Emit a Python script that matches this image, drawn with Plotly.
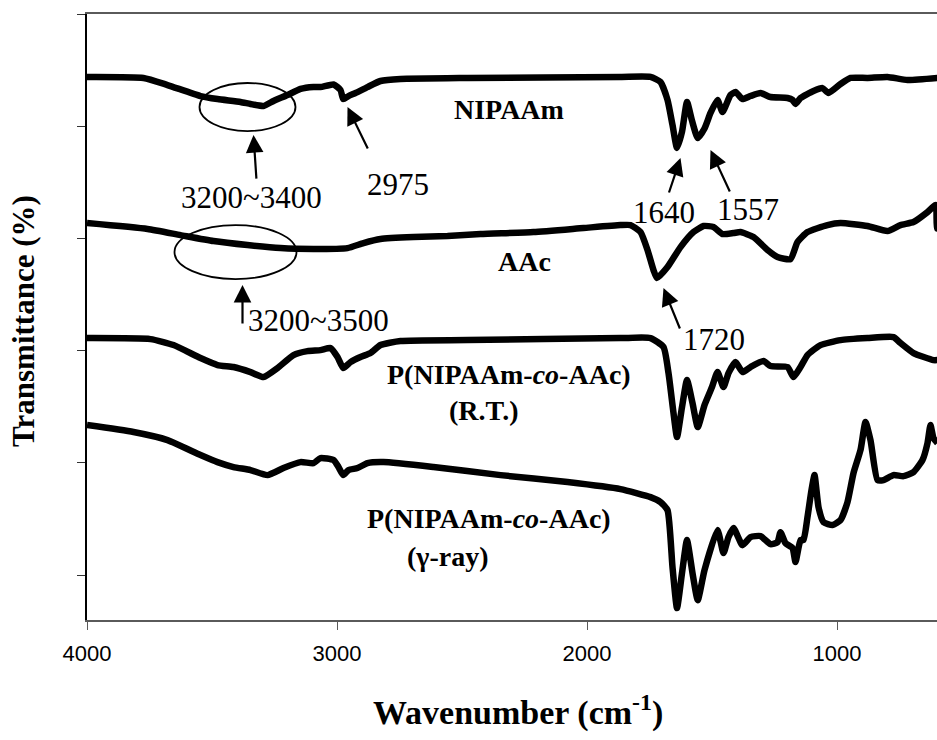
import plotly.graph_objects as go

# FTIR spectra: wavenumber (cm^-1) and stacked, offset transmittance (arb. units)
wn_nipaam = [4000, 3774, 3678, 3546, 3478, 3386, 3346, 3294, 3254, 3198, 3146, 3094, 3066, 3014,
             2986, 2975, 2954, 2926, 2878, 2826, 2746, 2478, 1866, 1746, 1706, 1678, 1658, 1640,
             1620, 1600, 1580, 1557, 1530, 1506, 1478, 1458, 1426, 1406, 1378, 1346, 1306, 1266,
             1198, 1178, 1166, 1146, 1094, 1058, 1034, 986, 946, 878, 798, 718, 598]
tr_nipaam = [4.439, 4.430, 4.367, 4.269, 4.242, 4.216, 4.198, 4.180, 4.225, 4.278, 4.332, 4.349,
             4.349, 4.372, 4.323, 4.242, 4.269, 4.296, 4.349, 4.403, 4.421, 4.430, 4.439, 4.439,
             4.394, 4.234, 4.011, 3.806, 3.950, 4.216, 4.050, 3.895, 3.980, 4.118, 4.234, 4.127,
             4.278, 4.305, 4.242, 4.269, 4.296, 4.260, 4.251, 4.234, 4.198, 4.251, 4.314, 4.340,
             4.296, 4.376, 4.430, 4.430, 4.439, 4.412, 4.430]

wn_aac = [4000, 3758, 3626, 3494, 3358, 3226, 3094, 2958, 2894, 2826, 2694, 2558, 2426, 2214,
          2014, 1866, 1826, 1786, 1758, 1734, 1720, 1678, 1626, 1574, 1534, 1494, 1458, 1414,
          1386, 1334, 1278, 1238, 1186, 1158, 1118, 1038, 986, 878, 798, 746, 694, 638, 605,
          600, 595]
tr_aac = [3.137, 3.084, 3.030, 2.977, 2.941, 2.914, 2.906, 2.914, 2.959, 2.995, 3.012, 3.021,
          3.039, 3.057, 3.093, 3.119, 3.119, 3.057, 2.897, 2.718, 2.647, 2.745, 2.923, 3.057,
          3.111, 3.102, 3.039, 3.048, 3.057, 3.012, 2.897, 2.834, 2.816, 2.968, 3.057, 3.119,
          3.137, 3.111, 3.066, 3.119, 3.146, 3.235, 3.298, 3.090, 3.090]

wn_rt = [4000, 3746, 3654, 3546, 3478, 3414, 3346, 3294, 3238, 3174, 3118, 3066, 3026, 2998,
         2975, 2946, 2906, 2866, 2826, 2746, 2478, 1866, 1746, 1694, 1674, 1654, 1640, 1620,
         1600, 1578, 1557, 1530, 1500, 1478, 1454, 1434, 1406, 1378, 1346, 1294, 1266, 1198,
         1174, 1146, 1118, 1066, 986, 878, 774, 746, 694, 614, 598]
tr_rt = [2.112, 2.103, 2.050, 1.934, 1.872, 1.854, 1.809, 1.765, 1.845, 1.961, 1.996, 2.005,
         2.023, 1.943, 1.845, 1.898, 1.943, 1.979, 2.050, 2.086, 2.094, 2.112, 2.112, 2.032,
         1.800, 1.444, 1.230, 1.497, 1.738, 1.533, 1.319, 1.515, 1.676, 1.809, 1.676, 1.800,
         1.898, 1.809, 1.854, 1.907, 1.863, 1.854, 1.765, 1.854, 1.961, 2.050, 2.094, 2.112,
         2.121, 2.068, 1.979, 1.916, 1.916]

wn_gamma = [4000, 3814, 3678, 3546, 3478, 3414, 3346, 3278, 3214, 3146, 3094, 3066, 3014, 2994,
            2975, 2954, 2918, 2878, 2814, 2614, 2346, 2078, 1866, 1746, 1706, 1678, 1658, 1640,
            1620, 1600, 1578, 1557, 1530, 1478, 1454, 1434, 1414, 1378, 1346, 1306, 1266, 1238,
            1226, 1206, 1178, 1166, 1146, 1134, 1118, 1102, 1090, 1074, 1054, 1018, 986, 958,
            934, 906, 886, 866, 838, 814, 774, 734, 694, 658, 638, 626, 614, 598]
tr_gamma = [1.337, 1.275, 1.203, 1.070, 1.007, 0.963, 0.936, 0.891, 0.954, 1.007, 0.998, 1.043,
            1.025, 0.963, 0.891, 0.936, 0.954, 0.998, 1.007, 0.963, 0.891, 0.829, 0.766, 0.695,
            0.651, 0.579, 0.071, -0.294, 0.018, 0.312, 0.018, -0.223, 0.045, 0.401, 0.196, 0.339,
            0.419, 0.267, 0.339, 0.348, 0.276, 0.294, 0.383, 0.285, 0.241, 0.116, 0.312, 0.312,
            0.517, 0.758, 0.891, 0.606, 0.472, 0.446, 0.490, 0.651, 0.909, 1.114, 1.364, 1.203,
            0.847, 0.847, 0.891, 0.882, 0.918, 1.025, 1.176, 1.337, 1.221, 1.176]

x_ticks = [4000, 3000, 2000, 1000]
y_ticks = [0, 1, 2, 3, 4, 5]

SERIF = "Liberation Serif, Times New Roman, serif"
SANS = "Liberation Sans, Arial, sans-serif"

fig = go.Figure()
for wn, tr in [(wn_nipaam, tr_nipaam), (wn_aac, tr_aac), (wn_rt, tr_rt), (wn_gamma, tr_gamma)]:
    fig.add_trace(go.Scatter(x=wn, y=tr, mode="lines",
                             line=dict(color="black", width=6.5, shape="spline", smoothing=0.5),
                             showlegend=False, hoverinfo="skip"))

# Sample labels
labels = [
    ("<b>NIPAAm</b>", 2314, 4.153),
    ("<b>AAc</b>", 2250, 2.799),
    ("<b>P(NIPAAm-<i>co</i>-AAc)</b>", 2314, 1.791),
    ("<b>(R.T.)</b>", 2414, 1.471),
    ("<b>P(NIPAAm-<i>co</i>-AAc)</b>", 2394, 0.508),
    ("<b>(γ-ray)</b>", 2558, 0.169),
]
for txt, x, y in labels:
    fig.add_annotation(x=x, y=y, text=txt, showarrow=False,
                       font=dict(family=SERIF, size=28, color="black"))

# Peak position labels
peaks = [
    ("3200~3400", 3342, 3.369),
    ("2975", 2758, 3.485),
    ("1640", 1694, 3.235),
    ("1557", 1358, 3.262),
    ("3200~3500", 3074, 2.273),
    ("1720", 1494, 2.103),
]
for txt, x, y in peaks:
    fig.add_annotation(x=x, y=y, text=txt, showarrow=False,
                       font=dict(family=SERIF, size=31, color="black"))

# Arrows: (tip x, tip y, tail x, tail y)
arrows = [
    (3334, 3.922, 3322, 3.520),
    (2958, 4.171, 2874, 3.788),
    (1626, 3.717, 1674, 3.396),
    (1506, 3.788, 1426, 3.405),
    (3378, 2.585, 3378, 2.228),
    (1694, 2.558, 1626, 2.184),
]
for x, y, ax, ay in arrows:
    fig.add_annotation(x=x, y=y, ax=ax, ay=ay, axref="x", ayref="y", text="",
                       showarrow=True, arrowhead=2, arrowsize=1.6, arrowwidth=2.2,
                       arrowcolor="black", standoff=0, startstandoff=0)

# Ellipses around the broad O-H / N-H bands
for x0, x1, y0, y1 in [(3550, 3166, 3.957, 4.385), (3650, 3162, 2.638, 3.119)]:
    fig.add_shape(type="circle", xref="x", yref="y", x0=x0, x1=x1, y0=y0, y1=y1,
                  line=dict(color="black", width=1.8))

# Axis titles
fig.add_annotation(xref="paper", yref="paper", x=0.507, y=-0.149,
                   xanchor="center", yanchor="middle",
                   text="<b>Wavenumber (cm<sup>-1</sup>)</b>", showarrow=False,
                   font=dict(family=SERIF, size=34, color="black"))
fig.add_annotation(xref="paper", yref="paper", x=-0.075, y=0.494,
                   xanchor="center", yanchor="middle",
                   text="<b>Transmittance (%)</b>", textangle=-90, showarrow=False,
                   font=dict(family=SERIF, size=31, color="black"))

fig.update_xaxes(range=[4000, 600], tickvals=x_ticks, ticktext=[str(v) for v in x_ticks],
                 showline=True, linecolor="#5a5a5a", linewidth=1.5, mirror=True,
                 ticks="outside", ticklen=8, tickcolor="#5a5a5a", tickwidth=1.2,
                 ticklabelstandoff=5,
                 showgrid=False, zeroline=False,
                 tickfont=dict(family=SANS, size=22, color="black"))
fig.update_yaxes(range=[-0.4, 5.0], tickvals=y_ticks, showticklabels=False,
                 showline=True, linecolor="black", linewidth=1.5,
                 ticks="outside", ticklen=8, tickcolor="#333333", tickwidth=1.2,
                 showgrid=False, zeroline=False)

fig.update_layout(width=937, height=740, margin=dict(l=87, r=0, t=14, b=120),
                  plot_bgcolor="white", paper_bgcolor="white")

fig.write_html("out.html")
